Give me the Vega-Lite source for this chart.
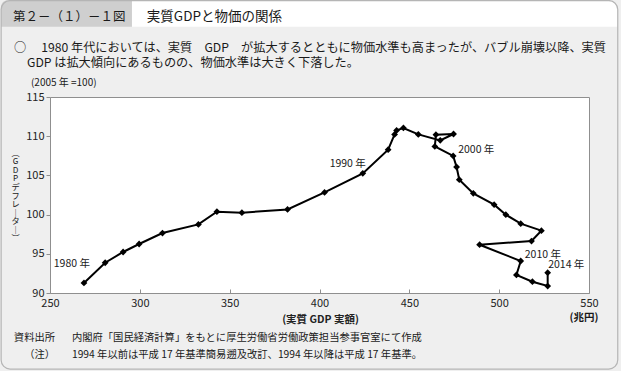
{
  "$schema": "https://vega.github.io/schema/vega-lite/v6.json",
  "width": 539,
  "height": 196,
  "autosize": {"type": "none"},
  "padding": {"left": 50, "top": 97, "right": 32, "bottom": 78},
  "background": "#efefef",
  "config": {
    "font": "Noto Sans CJK JP",
    "view": {"fill": "white", "stroke": "#8f8f8f", "strokeWidth": 1},
    "axis": {"labelOverlap": false, "grid": false, "domain": false}
  },
  "datasets": {
    "one": [{}],
    "series": [
      {"year": 1980, "gdp": 268.9, "deflator": 91.28},
      {"year": 1981, "gdp": 280.7, "deflator": 93.86},
      {"year": 1982, "gdp": 290.7, "deflator": 95.23},
      {"year": 1983, "gdp": 299.6, "deflator": 96.25},
      {"year": 1984, "gdp": 312.6, "deflator": 97.65},
      {"year": 1985, "gdp": 332.6, "deflator": 98.75},
      {"year": 1986, "gdp": 342.9, "deflator": 100.37},
      {"year": 1987, "gdp": 356.8, "deflator": 100.24},
      {"year": 1988, "gdp": 382.2, "deflator": 100.66},
      {"year": 1989, "gdp": 402.8, "deflator": 102.83},
      {"year": 1990, "gdp": 424.1, "deflator": 105.26},
      {"year": 1991, "gdp": 438.2, "deflator": 108.28},
      {"year": 1992, "gdp": 441.8, "deflator": 110.23},
      {"year": 1993, "gdp": 442.9, "deflator": 110.74},
      {"year": 1994, "gdp": 446.7, "deflator": 111.05},
      {"year": 1995, "gdp": 455.0, "deflator": 110.23},
      {"year": 1996, "gdp": 467.2, "deflator": 109.47},
      {"year": 1997, "gdp": 474.6, "deflator": 110.28},
      {"year": 1998, "gdp": 464.8, "deflator": 110.19},
      {"year": 1999, "gdp": 464.2, "deflator": 108.70},
      {"year": 2000, "gdp": 474.4, "deflator": 107.48},
      {"year": 2001, "gdp": 476.3, "deflator": 106.07},
      {"year": 2002, "gdp": 477.8, "deflator": 104.45},
      {"year": 2003, "gdp": 485.6, "deflator": 102.71},
      {"year": 2004, "gdp": 497.2, "deflator": 101.27},
      {"year": 2005, "gdp": 503.7, "deflator": 99.99},
      {"year": 2006, "gdp": 512.0, "deflator": 98.84},
      {"year": 2007, "gdp": 523.5, "deflator": 97.95},
      {"year": 2008, "gdp": 518.0, "deflator": 96.63},
      {"year": 2009, "gdp": 489.1, "deflator": 96.16},
      {"year": 2010, "gdp": 512.0, "deflator": 94.08},
      {"year": 2011, "gdp": 509.6, "deflator": 92.30},
      {"year": 2012, "gdp": 518.5, "deflator": 91.44},
      {"year": 2013, "gdp": 527.0, "deflator": 90.89},
      {"year": 2014, "gdp": 527.0, "deflator": 92.59}
    ]
  },
  "layer": [
    {
      "data": {"name": "series"},
      "mark": {"type": "line", "color": "black", "strokeWidth": 2},
      "encoding": {
        "x": {
          "field": "gdp",
          "type": "quantitative",
          "scale": {"domain": [250, 550], "nice": false, "zero": false},
          "axis": {
            "values": [250, 300, 350, 400, 450, 500, 550],
            "tickCount": 7,
            "tickSize": -4,
            "tickColor": "#8f8f8f",
            "labelFontSize": 11,
            "labelColor": "#222222",
            "labelPadding": 8,
            "labelFlush": false,
            "title": "(実質 GDP 実額)",
            "titleFontSize": 10.5,
            "titleFontWeight": "bold",
            "titleColor": "#222222",
            "titleX": 270,
            "titleY": 26,
            "titleBaseline": "middle",
            "titleAnchor": "start",
            "titleAlign": "center"
          }
        },
        "y": {
          "field": "deflator",
          "type": "quantitative",
          "scale": {"domain": [90, 115], "nice": false, "zero": false},
          "axis": {
            "values": [90, 95, 100, 105, 110, 115],
            "tickCount": 6,
            "tickSize": 4,
            "tickColor": "#8f8f8f",
            "labelFontSize": 11,
            "labelColor": "#222222",
            "labelPadding": 2,
            "labelFlush": false,
            "title": ["︵", "G", "D", "P", "デ", "フ", "レ", "｜", "タ", "｜", "︶"],
            "titleAngle": 0,
            "titleFontSize": 8.2,
            "titleFontWeight": "normal",
            "titleColor": "#222222",
            "titleLineHeight": 8.6,
            "titleX": -35,
            "titleY": 52,
            "titleAlign": "center",
            "titleBaseline": "top"
          }
        },
        "order": {"field": "year", "type": "quantitative"}
      }
    },
    {
      "data": {"name": "one"},
      "mark": {"type": "rect", "fill": "white", "clip": false, "cornerRadiusTopRight": 9},
      "encoding": {
        "x": {"datum": 295.6, "type": "quantitative"},
        "x2": {"datum": 566.0},
        "y": {"datum": 127.3, "type": "quantitative"},
        "y2": {"datum": 123.95}
      }
    },
    {
      "data": {"name": "one"},
      "mark": {"type": "rect", "fill": "#cfcfcf", "clip": false, "cornerRadiusTopLeft": 6},
      "encoding": {
        "x": {"datum": 222.8, "type": "quantitative"},
        "x2": {"datum": 295.6},
        "y": {"datum": 127.3, "type": "quantitative"},
        "y2": {"datum": 123.95}
      }
    },
    {
      "data": {"name": "one"},
      "mark": {"type": "rect", "fill": null, "stroke": "#b5b5b5", "strokeWidth": 1.2, "clip": false, "cornerRadius": 9},
      "encoding": {
        "x": {"datum": 222.8, "type": "quantitative"},
        "x2": {"datum": 566.0},
        "y": {"datum": 127.3, "type": "quantitative"},
        "y2": {"datum": 80.3}
      }
    },
    {
      "data": {"name": "series"},
      "mark": {"type": "point", "shape": "diamond", "filled": true, "color": "black", "size": 46, "opacity": 1},
      "encoding": {
        "x": {"field": "gdp", "type": "quantitative"},
        "y": {"field": "deflator", "type": "quantitative"}
      }
    },
    {
      "data": {"name": "series"},
      "transform": [{"filter": "datum.year === 1980"}],
      "mark": {"type": "text", "align": "right", "baseline": "middle", "dx": 6, "dy": -19, "fontSize": 10.5, "color": "#1a1a1a"},
      "encoding": {
        "x": {"field": "gdp", "type": "quantitative"},
        "y": {"field": "deflator", "type": "quantitative"},
        "text": {"value": "1980 年"}
      }
    },
    {
      "data": {"name": "series"},
      "transform": [{"filter": "datum.year === 1990"}],
      "mark": {"type": "text", "align": "right", "baseline": "middle", "dx": 3, "dy": -9.5, "fontSize": 10.5, "color": "#1a1a1a"},
      "encoding": {
        "x": {"field": "gdp", "type": "quantitative"},
        "y": {"field": "deflator", "type": "quantitative"},
        "text": {"value": "1990 年"}
      }
    },
    {
      "data": {"name": "series"},
      "transform": [{"filter": "datum.year === 2000"}],
      "mark": {"type": "text", "align": "left", "baseline": "middle", "dx": 5, "dy": -5.5, "fontSize": 10.5, "color": "#1a1a1a"},
      "encoding": {
        "x": {"field": "gdp", "type": "quantitative"},
        "y": {"field": "deflator", "type": "quantitative"},
        "text": {"value": "2000 年"}
      }
    },
    {
      "data": {"name": "series"},
      "transform": [{"filter": "datum.year === 2010"}],
      "mark": {"type": "text", "align": "left", "baseline": "middle", "dx": 4, "dy": -6.5, "fontSize": 10.5, "color": "#1a1a1a"},
      "encoding": {
        "x": {"field": "gdp", "type": "quantitative"},
        "y": {"field": "deflator", "type": "quantitative"},
        "text": {"value": "2010 年"}
      }
    },
    {
      "data": {"name": "series"},
      "transform": [{"filter": "datum.year === 2014"}],
      "mark": {"type": "text", "align": "left", "baseline": "middle", "dx": 0.5, "dy": -7.5, "fontSize": 10.5, "color": "#1a1a1a"},
      "encoding": {
        "x": {"field": "gdp", "type": "quantitative"},
        "y": {"field": "deflator", "type": "quantitative"},
        "text": {"value": "2014 年"}
      }
    },
    {
      "data": {"name": "one"},
      "mark": {"type": "text", "align": "left", "baseline": "middle", "fontSize": 12.5, "color": "#1a1a1a", "clip": false},
      "encoding": {
        "x": {"datum": 229.4, "type": "quantitative"},
        "y": {"datum": 125.2, "type": "quantitative"},
        "text": {"value": "第２－（１）－１図"}
      }
    },
    {
      "data": {"name": "one"},
      "mark": {"type": "text", "align": "left", "baseline": "middle", "fontSize": 13.5, "color": "#1a1a1a", "clip": false},
      "encoding": {
        "x": {"datum": 303.9, "type": "quantitative"},
        "y": {"datum": 125.2, "type": "quantitative"},
        "text": {"value": "実質GDPと物価の関係"}
      }
    },
    {
      "data": {"name": "one"},
      "mark": {"type": "text", "align": "left", "baseline": "middle", "fontSize": 12.2, "color": "#1a1a1a", "clip": false},
      "encoding": {
        "x": {"datum": 230.0, "type": "quantitative"},
        "y": {"datum": 121.29, "type": "quantitative"},
        "text": {"value": "○　 1980 年代においては、実質　GDP　が拡大するとともに物価水準も高まったが、バブル崩壊以降、実質"}
      }
    },
    {
      "data": {"name": "one"},
      "mark": {"type": "text", "align": "left", "baseline": "middle", "fontSize": 12.2, "color": "#1a1a1a", "clip": false},
      "encoding": {
        "x": {"datum": 237.2, "type": "quantitative"},
        "y": {"datum": 119.3, "type": "quantitative"},
        "text": {"value": "GDP は拡大傾向にあるものの、物価水準は大きく下落した。"}
      }
    },
    {
      "data": {"name": "one"},
      "mark": {"type": "text", "align": "left", "baseline": "middle", "fontSize": 10, "color": "#1a1a1a", "clip": false},
      "encoding": {
        "x": {"datum": 239.4, "type": "quantitative"},
        "y": {"datum": 116.8, "type": "quantitative"},
        "text": {"value": "(2005 年 =100)"}
      }
    },
    {
      "data": {"name": "one"},
      "mark": {"type": "text", "align": "center", "baseline": "middle", "fontSize": 10.5, "fontWeight": "bold", "color": "#1a1a1a", "clip": false},
      "encoding": {
        "x": {"datum": 547.2, "type": "quantitative"},
        "y": {"datum": 86.75, "type": "quantitative"},
        "text": {"value": "(兆円)"}
      }
    },
    {
      "data": {"name": "one"},
      "mark": {"type": "text", "align": "right", "baseline": "middle", "fontSize": 10.3, "lineHeight": 17, "color": "#1a1a1a", "clip": false},
      "encoding": {
        "x": {"datum": 252.8, "type": "quantitative"},
        "y": {"datum": 84.3, "type": "quantitative"},
        "text": {"value": ["資料出所", "（注）"]}
      }
    },
    {
      "data": {"name": "one"},
      "mark": {"type": "text", "align": "left", "baseline": "middle", "fontSize": 10.3, "lineHeight": 17, "color": "#1a1a1a", "clip": false},
      "encoding": {
        "x": {"datum": 262.2, "type": "quantitative"},
        "y": {"datum": 84.3, "type": "quantitative"},
        "text": {"value": ["内閣府「国民経済計算」をもとに厚生労働省労働政策担当参事官室にて作成", "1994 年以前は平成 17 年基準簡易遡及改訂、1994 年以降は平成 17 年基準。"]}
      }
    }
  ]
}
